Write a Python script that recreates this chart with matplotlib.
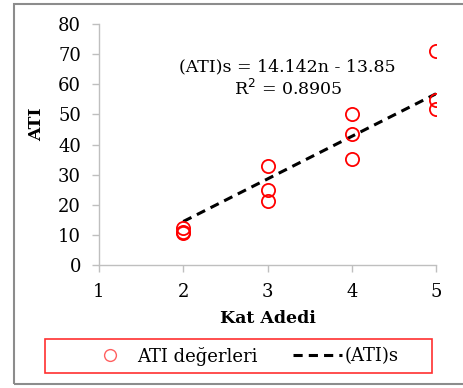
import numpy as np
import matplotlib.pyplot as plt
from matplotlib.lines import Line2D
from matplotlib.patches import Rectangle

# ------------------------------------------------------------
# data
# ------------------------------------------------------------
kat_adedi = [2, 2, 2, 3, 3, 3, 4, 4, 4, 5, 5, 5]
ati_values = [12.3, 11.0, 10.6, 32.9, 24.9, 21.3, 50.0, 43.4, 35.3, 71.0, 54.8, 51.8]

# trendline (from the chart's equation)
slope = 14.142
intercept = -13.85
r2 = 0.8905

x_ticks = [1, 2, 3, 4, 5]
y_ticks = [0, 10, 20, 30, 40, 50, 60, 70, 80]

plt.rcParams["font.family"] = ["DejaVu Serif"]

fig = plt.figure(figsize=(4.63, 3.88), dpi=100)
ax = fig.add_axes([0.2138, 0.317, 0.728, 0.621])

ax.plot(kat_adedi, ati_values, "o", ms=9.5, mfc="none", mec="#ff0000", mew=1.3,
        zorder=3)

xs = np.array([min(kat_adedi), max(kat_adedi)])
ax.plot(xs, slope * xs + intercept, color="black", lw=2.2, ls=(0, (3, 2)), zorder=2)

ax.text(3.24, 65.8, f"(ATI)s = {slope}n - {abs(intercept)}", ha="center", va="center",
        fontsize=12.5)
ax.text(3.24, 58.3, f"R$^2$ = {r2}", ha="center", va="center", fontsize=12.5)

ax.set_xlim(1, 5)
ax.set_ylim(0, 80)
ax.set_xticks(x_ticks)
ax.set_yticks(y_ticks)
ax.tick_params(labelsize=13, color="#bfbfbf", length=5, width=1, direction="out")
ax.tick_params(axis="y", pad=8)
ax.tick_params(axis="x", pad=8)
for s in ["top", "right"]:
    ax.spines[s].set_visible(False)
for s in ["left", "bottom"]:
    ax.spines[s].set_color("#bfbfbf")
    ax.spines[s].set_linewidth(1)

ax.set_xlabel("Kat Adedi", fontsize=12.5, fontweight="bold")
ax.set_ylabel("ATI", fontsize=12.5, fontweight="bold")
ax.xaxis.set_label_coords(0.5, -0.185)
ax.yaxis.set_label_coords(-0.16, 0.585)

handles = [
    Line2D([], [], ls="none", marker="o", ms=8.5, mfc="none", mec="#ff6060", mew=1.0),
    Line2D([], [], color="black", lw=2.2, ls=(0, (3, 2))),
]
fig.legend(handles, ["ATI değerleri", "(ATI)s"], loc="center",
           bbox_to_anchor=(242 / 463, 1 - 356 / 388), ncol=2, fontsize=13,
           frameon=False, handlelength=2.7, handletextpad=0.15, columnspacing=2.0)

# legend frame
fig.patches.append(Rectangle((45 / 463, 1 - 373 / 388), (432 - 45) / 463, 34 / 388,
                             transform=fig.transFigure, fill=False,
                             edgecolor="#ff3030", lw=1.2))

# outer chart border
fig.patches.append(Rectangle((14 / 463, 1 - 384 / 388), 1.0, (384 - 4) / 388,
                             transform=fig.transFigure, fill=False,
                             edgecolor="#8c8c8c", lw=1.5))

fig.savefig("out.png", dpi=100)
